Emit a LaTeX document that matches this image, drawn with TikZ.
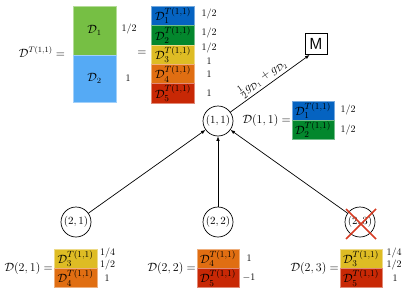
\documentclass[tikz,border=0pt]{standalone}
\usetikzlibrary{arrows.meta}
\definecolor{cgreenA}{RGB}{118,191,68}
\definecolor{cblueA}{RGB}{85,170,245}
\definecolor{cblue}{RGB}{5,99,193}
\definecolor{cgreen}{RGB}{3,135,45}
\definecolor{cyellow}{RGB}{222,188,36}
\definecolor{corange}{RGB}{224,110,18}
\definecolor{cred}{RGB}{200,40,5}
\definecolor{ccross}{RGB}{215,60,35}
\begin{document}
\begin{tikzpicture}[x=1pt,y=-1pt,
  every node/.style={font=\fontsize{11.5}{13}\selectfont},
  cell/.style={fill=#1, draw=#1!55!white, line width=0.5pt, minimum width=43pt, minimum height=19.4pt, inner sep=0pt, font=\fontsize{12.5}{14}\selectfont},
  bigcell/.style={fill=#1, draw=#1!55!white, line width=0.5pt, minimum width=43pt, inner sep=0pt, font=\fontsize{12}{14}\selectfont},
  wt/.style={inner sep=0pt, font=\normalsize},
  stnode/.style={circle, draw, line width=0.7pt, minimum size=30pt, inner sep=0pt, font=\fontsize{11}{12}\selectfont},
  arr/.style={-{Latex[length=4.5pt,width=3.5pt]}, line width=0.7pt},
  mbox/.style={draw, line width=0.8pt, minimum width=22pt, minimum height=21pt, inner sep=0pt, font=\fontsize{16}{17}\selectfont\sffamily},
  crossline/.style={draw=ccross, line width=1.5pt}]
\useasboundingbox (0,0) rectangle (407,292);

% top: D^{T(1,1)} decomposition
\node[font=\fontsize{12}{14}\selectfont] (lbl) at (42,52) {$\mathcal{D}^{T(1,1)}=$};
\node[bigcell=cgreenA, minimum height=49pt] (b1) at (94.5,30.5) {$\mathcal{D}_1$};
\node[bigcell=cblueA, minimum height=47pt] (b2) at (94.5,78.5) {$\mathcal{D}_2$};
\node[wt] (bw1) at (129,29) {$1/2$};
\node[wt] (bw2) at (128,78) {$1$};
\node (eq) at (142,53) {$=$};

\node[cell=cblue]   (r1) at (173,15.7) {$\mathcal{D}_1^{T(1,1)}$};
\node[cell=cgreen]  (r2) at (173,35.1) {$\mathcal{D}_2^{T(1,1)}$};
\node[cell=cyellow] (r3) at (173,54.5) {$\mathcal{D}_3^{T(1,1)}$};
\node[cell=corange] (r4) at (173,73.9) {$\mathcal{D}_4^{T(1,1)}$};
\node[cell=cred]    (r5) at (173,93.3) {$\mathcal{D}_5^{T(1,1)}$};
\node[wt] (rw1) at (209,14) {$1/2$};
\node[wt] (rw2) at (209,33) {$1/2$};
\node[wt] (rw3) at (209,48) {$1/2$};
\node[wt] (rw3b) at (209,61) {$1$};
\node[wt] (rw4) at (209,74) {$1$};
\node[wt] (rw5) at (209,93) {$1$};

% tree nodes
\node[stnode] (n11) at (218,121) {$(1,1)$};
\node[stnode] (n21) at (76,222) {$(2,1)$};
\node[stnode] (n22) at (218,222) {$(2,2)$};
\node[stnode] (n23) at (360,222) {$(2,3)$};
\node[mbox] (M) at (316,44) {M};

\draw[arr] (n21) -- (n11);
\draw[arr] (n22) -- (n11);
\draw[arr] (n23) -- (n11);
\draw[arr] (n11) -- node[pos=0.47, sloped, above, inner sep=1.5pt, font=\fontsize{12.5}{14}\selectfont] {$\frac{1}{2}g_{\mathcal{D}_1}+g_{\mathcal{D}_2}$} ([xshift=5pt]M.south west);

% D(1,1)
\node[anchor=east, inner sep=1pt] (l11) at (292,120) {$\mathcal{D}(1,1)=$};
\node[cell=cblue, minimum width=42pt]  (a1) at (313,110.5) {$\mathcal{D}_1^{T(1,1)}$};
\node[cell=cgreen, minimum width=42pt] (a2) at (313,129.5) {$\mathcal{D}_2^{T(1,1)}$};
\node[wt] (aw1) at (348,110) {$1/2$};
\node[wt] (aw2) at (348,130) {$1/2$};

% D(2,1)
\node[anchor=east, inner sep=1pt] (l21) at (54,268) {$\mathcal{D}(2,1)=$};
\node[cell=cyellow] (c1) at (75.5,258.5) {$\mathcal{D}_3^{T(1,1)}$};
\node[cell=corange] (c2) at (75.5,278) {$\mathcal{D}_4^{T(1,1)}$};
\node[wt] (cw1) at (107.5,253) {$1/4$};
\node[wt] (cw2) at (107.5,265) {$1/2$};
\node[wt] (cw3) at (107,278) {$1$};

% D(2,2)
\node[anchor=east, inner sep=1pt] (l22) at (197,268) {$\mathcal{D}(2,2)=$};
\node[cell=corange, minimum width=42pt] (d1) at (218,258.5) {$\mathcal{D}_4^{T(1,1)}$};
\node[cell=cred, minimum width=42pt]    (d2) at (218,278) {$\mathcal{D}_5^{T(1,1)}$};
\node[wt] (dw1) at (249,258) {$1$};
\node[wt] (dw2) at (249,278) {$-1$};

% D(2,3)
\node[anchor=east, inner sep=1pt] (l23) at (340,268) {$\mathcal{D}(2,3)=$};
\node[cell=cyellow, minimum width=42pt] (e1) at (361,258.5) {$\mathcal{D}_3^{T(1,1)}$};
\node[cell=cred, minimum width=42pt]    (e2) at (361,278) {$\mathcal{D}_5^{T(1,1)}$};
\node[wt] (ew1) at (394,253) {$1/4$};
\node[wt] (ew2) at (394,265) {$1/2$};
\node[wt] (ew3) at (395,278) {$1$};

% cross over (2,3)
\coordinate (x1) at (346,209);
\coordinate (x2) at (376,239);
\coordinate (x3) at (376,209);
\coordinate (x4) at (346,239);
\draw[crossline] (x1) -- (x2);
\draw[crossline] (x3) -- (x4);
\end{tikzpicture}
\end{document}
